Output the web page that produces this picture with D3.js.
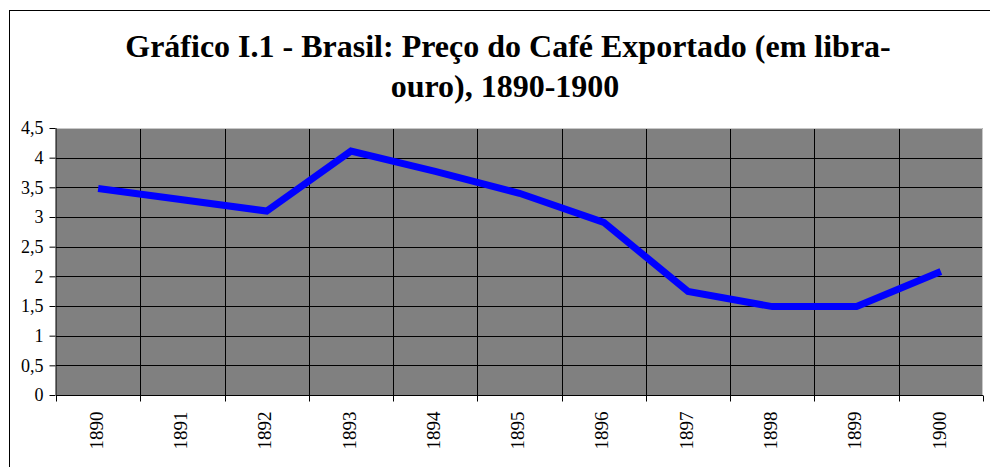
<!DOCTYPE html>
<html>
<head>
<meta charset="utf-8">
<script src="https://cdn.jsdelivr.net/npm/d3@7/dist/d3.min.js"></script>
<style>
  html, body { margin: 0; padding: 0; background: #fff; }
  svg { display: block; }
  svg text { font-family: "Liberation Serif", "Times New Roman", Times, "DejaVu Serif", serif; }
</style>
</head>
<body>
<svg id="chart" width="990" height="467"></svg>
<script>
const years = ["1890","1891","1892","1893","1894","1895","1896","1897","1898","1899","1900"];
const prices = [3.48, 3.29, 3.10, 4.11, 3.77, 3.40, 2.91, 1.745, 1.49, 1.49, 2.08];
const yTicks = [0, 0.5, 1, 1.5, 2, 2.5, 3, 3.5, 4, 4.5];
const titleLines = ["Gráfico I.1 - Brasil: Preço do Café Exportado (em libra-", "ouro), 1890-1900"];

const svg = d3.select("#chart");
const W = 990, H = 467;
const plot = { left: 56, right: 983, top: 128, bottom: 395 };

// chart area border
svg.append("rect")
  .attr("x", 9.5).attr("y", 10.5)
  .attr("width", W + 20).attr("height", H + 20)
  .attr("fill", "#fff").attr("stroke", "#000").attr("stroke-width", 1);

// title
const title = svg.append("text")
  .attr("font-weight", "bold")
  .attr("font-size", 32)
  .attr("text-anchor", "middle")
  .attr("fill", "#000");
title.append("tspan").attr("x", 508).attr("y", 57).text(titleLines[0]);
title.append("tspan").attr("x", 505).attr("y", 97).text(titleLines[1]);

const x = d3.scaleBand().domain(years).range([plot.left, plot.right]).padding(0);
const y = d3.scaleLinear().domain([0, 4.5]).range([plot.bottom, plot.top]);

// plot background
svg.append("rect")
  .attr("x", plot.left).attr("y", plot.top)
  .attr("width", plot.right - plot.left).attr("height", plot.bottom - plot.top)
  .attr("fill", "#808080");

// horizontal gridlines
svg.append("g")
  .selectAll("line")
  .data(yTicks.filter(v => v > 0 && v < 4.5))
  .join("line")
  .attr("x1", plot.left).attr("x2", plot.right)
  .attr("y1", d => Math.round(y(d)) + 0.5).attr("y2", d => Math.round(y(d)) + 0.5)
  .attr("stroke", "#000").attr("stroke-width", 1);

// vertical gridlines at band boundaries
const bounds = years.slice(1).map(d => x(d));
svg.append("g")
  .selectAll("line")
  .data(bounds)
  .join("line")
  .attr("x1", d => Math.round(d) + 0.5).attr("x2", d => Math.round(d) + 0.5)
  .attr("y1", plot.top).attr("y2", plot.bottom)
  .attr("stroke", "#000").attr("stroke-width", 1);

// light plot border top/right
svg.append("path")
  .attr("d", `M${plot.left},${plot.top + 0.5}H${plot.right - 0.5}V${plot.bottom}`)
  .attr("fill", "none").attr("stroke", "#c8c8c8").attr("stroke-width", 1);

// y axis
const yAxis = svg.append("g")
  .attr("transform", `translate(${plot.left - 0.5},0)`)
  .call(d3.axisLeft(y).tickValues(yTicks).tickSize(6).tickPadding(6)
    .tickFormat(d => String(d).replace(".", ",")));
yAxis.attr("font-family", null);
yAxis.select(".domain").attr("stroke", "#000").attr("d", `M0.5,${plot.top}V${plot.bottom}`);
yAxis.selectAll(".tick line").attr("stroke", "#000");
yAxis.selectAll(".tick text")
  .attr("font-size", 18).attr("fill", "#000");

// x axis
const xAxis = svg.append("g")
  .attr("transform", `translate(0,${plot.bottom + 0.5})`)
  .call(d3.axisBottom(x).tickSize(0).tickFormat(""));
xAxis.attr("font-family", null);
xAxis.select(".domain").attr("stroke", "#000").attr("d", `M${plot.left},0H${plot.right}`);
xAxis.selectAll(".tick").remove();
const allBounds = years.map(d => x(d)).concat([x(years[years.length - 1]) + x.bandwidth()]);
xAxis.selectAll("line.tk")
  .data(allBounds)
  .join("line")
  .attr("class", "tk")
  .attr("x1", d => Math.round(d) + 0.5).attr("x2", d => Math.round(d) + 0.5)
  .attr("y1", 0).attr("y2", 6)
  .attr("stroke", "#000");
xAxis.selectAll("text.lbl")
  .data(years)
  .join("text")
  .attr("class", "lbl")
  .attr("transform", d => `translate(${x(d) + x.bandwidth() / 2 - 2},${16}) rotate(-90)`)
  .attr("text-anchor", "end")
  .attr("dy", "0.35em")
  .attr("font-size", 19).attr("fill", "#000")
  .text(d => d);

// data line
const line = d3.line()
  .x((d, i) => x(years[i]) + x.bandwidth() / 2)
  .y(d => y(d));
svg.append("path")
  .datum(prices)
  .attr("d", line)
  .attr("fill", "none")
  .attr("stroke", "#0000ff")
  .attr("stroke-width", 7)
  .attr("stroke-linejoin", "miter");
</script>
</body>
</html>
